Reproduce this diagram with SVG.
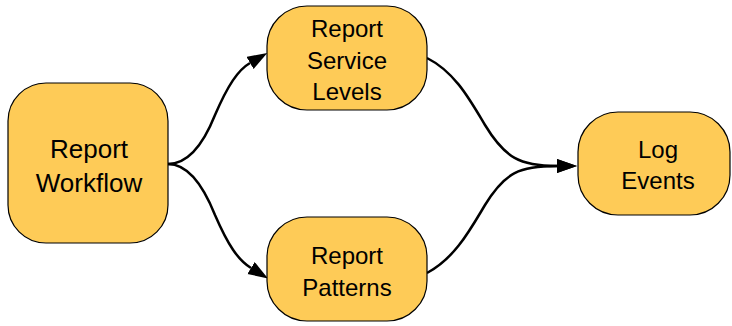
<svg xmlns="http://www.w3.org/2000/svg" width="732" height="326" viewBox="0 0 732 326">
  <style>
    .box { fill: #FECB57; stroke: #000; stroke-width: 1.2; }
    .lbl { font-family: "Liberation Sans", Arial, sans-serif; fill: #000; text-anchor: middle; }
    .big { font-size: 26px; }
    .med { font-size: 24px; }
    .edge { fill: none; stroke: #000; stroke-width: 2.5; marker-end: url(#arrow); }
  </style>
  <defs>
    <marker id="arrow" markerUnits="userSpaceOnUse" markerWidth="21" markerHeight="15" refX="0" refY="7" orient="auto">
      <path d="M0,0 L20,7 L0,14 z" fill="#000"/>
    </marker>
  </defs>
  <rect width="732" height="326" fill="#fff"/>

  <g id="edges">
    <path class="edge" d="M168,164 C190,164 205,140 215,115 C228,85 238,70 250,63"/>
    <path class="edge" d="M168,164 C190,164 205,190 215,215 C228,245 238,260 251,268"/>
    <path class="edge" d="M427,58 C455,72 470,100 485,125 C505,158 520,166 557,166"/>
    <path class="edge" d="M427,273 C455,258 470,230 485,205 C505,172 520,166 557,166"/>
  </g>

  <g id="report-workflow">
    <rect class="box" x="8" y="83" width="160" height="160" rx="38"/>
    <text class="lbl big" x="89" y="158">Report</text>
    <text class="lbl big" x="89" y="192">Workflow</text>
  </g>

  <g id="report-service-levels">
    <rect class="box" x="267" y="6" width="160" height="104" rx="40"/>
    <text class="lbl med" x="347" y="37">Report</text>
    <text class="lbl med" x="347" y="69">Service</text>
    <text class="lbl med" x="347" y="100">Levels</text>
  </g>

  <g id="report-patterns">
    <rect class="box" x="267" y="217" width="160" height="104" rx="40"/>
    <text class="lbl med" x="347" y="264">Report</text>
    <text class="lbl med" x="347" y="296">Patterns</text>
  </g>

  <g id="log-events">
    <rect class="box" x="578" y="112" width="152" height="103" rx="40"/>
    <text class="lbl med" x="658" y="158">Log</text>
    <text class="lbl med" x="658" y="189">Events</text>
  </g>
</svg>
